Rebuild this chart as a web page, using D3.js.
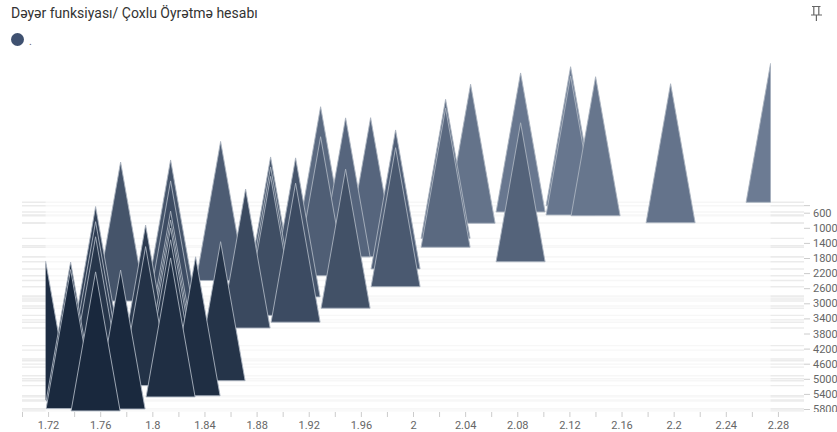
<!DOCTYPE html>
<html>
<head>
<meta charset="utf-8">
<script src="https://cdnjs.cloudflare.com/ajax/libs/d3/7.8.5/d3.min.js"></script>
<style>
    body { margin: 0; background: #fff; }
    text { font-family: Roboto, sans-serif; }
</style>
</head>
<body>
<svg id="chart" width="837" height="432" style="display:block"></svg>
<script>
// each point is one triangle: x category and the value its base sits on
var pointX = [
    1.72, 1.74, 1.74, 1.76, 1.76, 1.76, 1.76, 1.78, 1.78, 1.8, 1.8,
    1.82, 1.82, 1.82, 1.82, 1.82, 1.82, 1.82, 1.84, 1.86, 1.86, 1.88,
    1.9, 1.9, 1.9, 1.92, 1.92, 1.94, 1.94, 1.96, 1.96, 1.98, 2, 2,
    2.04, 2.04, 2.06, 2.1, 2.1, 2.14, 2.14, 2.16, 2.22, 2.3
];
var pointY = [
    5560, 5590, 5790, 4120, 4520, 4920, 5850, 2940, 5800, 4610, 5180,
    2885, 3440, 4240, 4475, 4690, 5000, 5480, 5450, 2395, 5050, 3655,
    2805, 3070, 3320, 2830, 3500, 1475, 2270, 1770, 3130, 1765, 2090, 2560,
    1280, 1515, 880, 580, 1900, 415, 660, 680, 865, 325
];
var xTicks = [
    1.7, 1.72, 1.74, 1.76, 1.78, 1.8, 1.82, 1.84, 1.86, 1.88, 1.9, 1.92, 1.94, 1.96, 1.98,
    2, 2.02, 2.04, 2.06, 2.08, 2.1, 2.12, 2.14, 2.16, 2.18, 2.2, 2.22, 2.24, 2.26, 2.28
];
var yTicks = [400, 600, 1000, 1400, 1800, 2200, 2600, 3000, 3400, 3800, 4200, 4600, 5000, 5400, 5800];
var yLabels = [600, 1000, 1400, 1800, 2200, 2600, 3000, 3400, 3800, 4200, 4600, 5000, 5400, 5800];

var TITLE = "Dəyər funksiyası/ Çoxlu Öyrətmə hesabı";
var LEGEND_LABEL = ".";

// plot box
var LEFT = 22, RIGHT = 804, BOTTOM = 412;
var CLIP_LEFT = 45.6, CLIP_RIGHT = 770.6;
var TRI_W = 49, TRI_H = 139;

var svg = d3.select("#chart");

var xAxisScale = d3.scaleLinear().domain([1.7, 2.3]).range([LEFT, RIGHT]);
// marks run on their own narrower range, they do not line up with the tick labels
var xMark = d3.scaleLinear().domain([1.72, 2.3]).range([CLIP_LEFT, CLIP_RIGHT]);
var y = d3.scaleLinear().domain([600, 5800]).range([212.7, 409]);
var color = d3.scaleLinear().domain([325, 5850]).range(["#6c7b93", "#19283d"]);

var defs = svg.append("defs");
defs.append("clipPath").attr("id", "plotClip").append("rect")
    .attr("x", CLIP_LEFT).attr("y", 0)
    .attr("width", CLIP_RIGHT - CLIP_LEFT).attr("height", BOTTOM);
defs.append("clipPath").attr("id", "yAxisClip").append("rect")
    .attr("x", RIGHT - 5).attr("y", 190)
    .attr("width", 60).attr("height", BOTTOM - 190);

svg.append("text")
    .attr("x", 11).attr("y", 18)
    .attr("font-size", 14)
    .attr("fill", "#333")
    .text(TITLE);

// legend
svg.append("circle")
    .attr("cx", 17.5).attr("cy", 39.5).attr("r", 6.5)
    .attr("fill", "#3f5170");
svg.append("text")
    .attr("x", 29).attr("y", 45)
    .attr("font-size", 11)
    .attr("fill", "#666")
    .text(LEGEND_LABEL);

// grid: one line per value, close values pile up into the heavier bands
svg.append("g").selectAll("line")
    .data(pointY)
    .enter()
    .append("line")
    .attr("x1", LEFT)
    .attr("x2", RIGHT)
    .attr("y1", function(d){ return y(d) })
    .attr("y2", function(d){ return y(d) })
    .style("stroke", "#ebebeb")
    .style("stroke-width", 1.4);

svg.append("rect")
    .attr("x", CLIP_LEFT).attr("y", 190)
    .attr("width", CLIP_RIGHT - CLIP_LEFT).attr("height", BOTTOM - 190)
    .attr("fill", "#fff")
    .attr("fill-opacity", 0.6);

// triangles, lower ones paint over higher ones
var points = d3.range(pointX.length).map(function(i){
    return {x: pointX[i], y: pointY[i]};
}).sort(function(a, b){ return a.y - b.y });

svg.append("g")
    .attr("clip-path", "url(#plotClip)")
    .selectAll("path")
    .data(points)
    .enter()
    .append("path")
    .attr("d", function(d){
        var cx = xMark(d.x), base = y(d.y);
        var p = d3.path();
        p.moveTo(cx, base - TRI_H);
        p.lineTo(cx + TRI_W / 2, base);
        p.lineTo(cx - TRI_W / 2, base);
        p.closePath();
        return p.toString();
    })
    .style("fill", function(d){ return color(d.y) })
    .style("stroke", "#aab3c0")
    .style("stroke-width", 0.9);

// axes
var xAxis = svg.append("g")
    .attr("transform", "translate(0," + BOTTOM + ")")
    .call(d3.axisBottom(xAxisScale)
        .tickValues(xTicks)
        .tickSize(5)
        .tickPadding(4)
        .tickFormat(function(d, i){ return i % 2 ? d : "" }));
xAxis.select(".domain").remove();
xAxis.selectAll("line").style("stroke", "#ccc");
xAxis.selectAll("text").attr("font-size", 11).style("font-family", "Roboto, sans-serif").style("fill", "#666");

var yAxis = svg.append("g")
    .attr("clip-path", "url(#yAxisClip)")
    .append("g")
    .attr("transform", "translate(" + RIGHT + ",0)")
    .call(d3.axisRight(y)
        .tickValues(yTicks)
        .tickSize(6)
        .tickPadding(3)
        .tickFormat(function(d){ return yLabels.indexOf(d) > -1 ? d : "" }));
yAxis.select(".domain").remove();
yAxis.selectAll("line").style("stroke", "#ccc");
yAxis.selectAll("text").attr("font-size", 11).style("font-family", "Roboto, sans-serif").style("fill", "#666");

// pin icon
svg.append("path")
    .attr("d", "M812 6.5H820.5M813.8 6.5V15M818.8 6.5V15M811 15H822M816.4 15V21")
    .style("fill", "none")
    .style("stroke", "#666")
    .style("stroke-width", 1.2);
</script>
</body>
</html>
